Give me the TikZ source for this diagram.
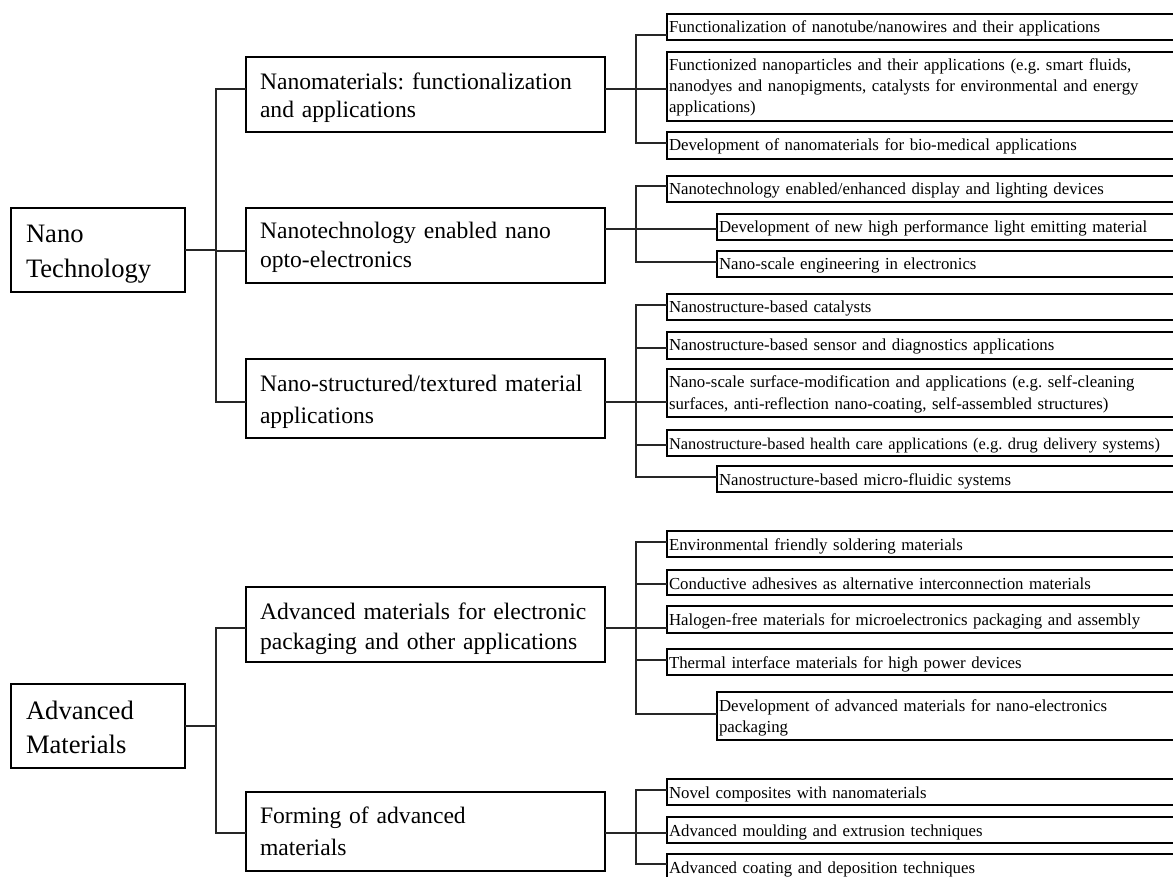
\documentclass[tikz,border=0pt]{standalone}
\usepackage{fontspec}
\setmainfont{Liberation Serif}
\begin{document}
\frenchspacing
\begin{tikzpicture}[x=1pt,y=1pt,
  bx/.style={draw=black, line width=1.7pt, anchor=north west, outer sep=0pt, inner ysep=0pt, align=left},
  boxA/.style={bx, inner xsep=15pt, text width=144pt, text height=35pt, text depth=49pt, font=\fontsize{26.6}{34.5}\selectfont},
  boxB/.style={bx, inner xsep=14pt, text width=331pt, font=\fontsize{23.6}{#1}\selectfont},
  boxC/.style={bx, inner xsep=2pt, text width=520pt, text height=19pt, font=\fontsize{16.8}{21}\selectfont},
  conn/.style={draw=black!85, line width=1.3pt}]
\useasboundingbox (0,0) rectangle (1173,-877);

% level 1
\node[boxA] (n1) at (11,-208) {Nano\\Technology};
\node[boxA] (n2) at (11,-684) {Advanced\\Materials};

% level 2
\node[boxB=28, text height=33pt, text depth=42pt] (L2a) at (246,-57) {\mbox{Nanomaterials: functionalization}\\\mbox{and applications}};
\node[boxB=29, text height=31pt, text depth=44pt] (L2b) at (246,-208) {\mbox{Nanotechnology enabled nano}\\\mbox{opto-electronics}};
\node[boxB=32.5, text height=32pt, text depth=47pt] (L2c) at (246,-359) {\mbox{Nano-structured/textured material}\\\mbox{applications}};
\node[boxB=30, text height=32pt, text depth=43pt] (L2d) at (246,-587) {\mbox{Advanced materials for electronic}\\\mbox{packaging and other applications}};
\node[boxB=32.5, text height=31pt, text depth=48pt] (L2e) at (246,-792) {\mbox{Forming of advanced}\\\mbox{materials}};

% level 3
\node[boxC, text depth=7pt] (a) at (667,-14) {\mbox{Functionalization of nanotube/nanowires and their applications}};
\node[boxC, text depth=50pt] (b) at (667,-52) {\mbox{Functionized nanoparticles and their applications (e.g. smart fluids,}\\\mbox{nanodyes and nanopigments, catalysts for environmental and energy}\\\mbox{applications)}};
\node[boxC, text depth=8pt] (c) at (667,-132) {\mbox{Development of nanomaterials for bio-medical applications}};
\node[boxC, text depth=7pt] (d) at (667,-176) {\mbox{Nanotechnology enabled/enhanced display and lighting devices}};
\node[boxC, text depth=7pt] (e) at (717,-214) {\mbox{Development of new high performance light emitting material}};
\node[boxC, text depth=7pt] (f) at (717,-251) {\mbox{Nano-scale engineering in electronics}};
\node[boxC, text depth=7pt] (g) at (667,-294) {\mbox{Nanostructure-based catalysts}};
\node[boxC, text depth=8pt] (h) at (667,-332) {\mbox{Nanostructure-based sensor and diagnostics applications}};
\node[boxC, text depth=29pt] (i) at (667,-369) {\mbox{Nano-scale surface-modification and applications (e.g. self-cleaning}\\\mbox{surfaces, anti-reflection nano-coating, self-assembled structures)}};
\node[boxC, text depth=7pt, font=\fontsize{16.4}{21}\selectfont] (j) at (667,-430) {\mbox{Nanostructure-based health care applications (e.g. drug delivery systems)}};
\node[boxC, text depth=7pt] (k) at (717,-466) {\mbox{Nanostructure-based micro-fluidic systems}};
\node[boxC, text depth=7pt] (l) at (667,-531) {\mbox{Environmental friendly soldering materials}};
\node[boxC, text depth=6pt] (m) at (667,-570) {\mbox{Conductive adhesives as alternative interconnection materials}};
\node[boxC, text depth=8pt] (n) at (667,-606) {\mbox{Halogen-free materials for microelectronics packaging and assembly}};
\node[boxC, text depth=7pt] (o) at (667,-649) {\mbox{Thermal interface materials for high power devices}};
\node[boxC, text depth=29pt] (p) at (717,-692) {\mbox{Development of advanced materials for nano-electronics}\\\mbox{packaging}};
\node[boxC, text depth=7pt] (q) at (667,-779) {\mbox{Novel composites with nanomaterials}};
\node[boxC, text depth=7pt] (r) at (667,-817) {\mbox{Advanced moulding and extrusion techniques}};
\node[boxC, text depth=5pt] (s) at (667,-854) {\mbox{Advanced coating and deposition techniques}};

% level 1 -> level 2
\draw[conn] (n1.east) -- ++(31,0) |- ([yshift=-32pt]L2a.north west);
\draw[conn] (n1.east) -- ++(31,0) |- ([yshift=-43pt]L2b.north west);
\draw[conn] (n1.east) -- ++(31,0) |- ([yshift=-43pt]L2c.north west);
\draw[conn] (n2.east) -- ++(31,0) |- ([yshift=-41pt]L2d.north west);
\draw[conn] (n2.east) -- ++(31,0) |- ([yshift=-41pt]L2e.north west);

% level 2 -> level 3
\draw[conn] ([yshift=-32pt]L2a.north east) -- ++(31,0) |- ([yshift=-21pt]a.north west);
\draw[conn] ([yshift=-32pt]L2a.north east) -- ++(31,0) |- ([yshift=-37pt]b.north west);
\draw[conn] ([yshift=-32pt]L2a.north east) -- ++(31,0) |- ([yshift=-11pt]c.north west);

\draw[conn] ([yshift=-21pt]L2b.north east) -- ++(31,0) |- ([yshift=-10pt]d.north west);
\draw[conn] ([yshift=-21pt]L2b.north east) -- ++(31,0) |- ([yshift=-15pt]e.north west);
\draw[conn] ([yshift=-21pt]L2b.north east) -- ++(31,0) |- ([yshift=-11pt]f.north west);

\draw[conn] ([yshift=-43pt]L2c.north east) -- ++(31,0) |- ([yshift=-11pt]g.north west);
\draw[conn] ([yshift=-43pt]L2c.north east) -- ++(31,0) |- ([yshift=-16pt]h.north west);
\draw[conn] ([yshift=-43pt]L2c.north east) -- ++(31,0) |- ([yshift=-33pt]i.north west);
\draw[conn] ([yshift=-43pt]L2c.north east) -- ++(31,0) |- ([yshift=-15pt]j.north west);
\draw[conn] ([yshift=-43pt]L2c.north east) -- ++(31,0) |- ([yshift=-11pt]k.north west);

\draw[conn] ([yshift=-41pt]L2d.north east) -- ++(31,0) |- ([yshift=-11pt]l.north west);
\draw[conn] ([yshift=-41pt]L2d.north east) -- ++(31,0) |- ([yshift=-14pt]m.north west);
\draw[conn] ([yshift=-41pt]L2d.north east) -- ++(31,0) |- ([yshift=-22pt]n.north west);
\draw[conn] ([yshift=-41pt]L2d.north east) -- ++(31,0) |- ([yshift=-11pt]o.north west);
\draw[conn] ([yshift=-41pt]L2d.north east) -- ++(31,0) |- ([yshift=-22pt]p.north west);

\draw[conn] ([yshift=-41pt]L2e.north east) -- ++(31,0) |- ([yshift=-11pt]q.north west);
\draw[conn] ([yshift=-41pt]L2e.north east) -- ++(31,0) |- ([yshift=-16pt]r.north west);
\draw[conn] ([yshift=-41pt]L2e.north east) -- ++(31,0) |- ([yshift=-10pt]s.north west);
\end{tikzpicture}
\end{document}
